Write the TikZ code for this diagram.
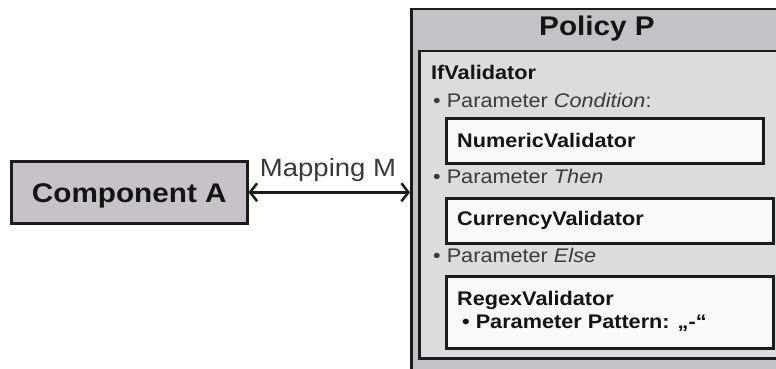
\documentclass[tikz,border=0pt]{standalone}
\usepackage{fontspec}
\setmainfont{Liberation Sans}[FakeStretch=1.1]
\usetikzlibrary{arrows.meta}

\definecolor{framecol}{HTML}{1C1C1C}
\definecolor{headfill}{HTML}{C4C2C6}
\definecolor{innerfill}{HTML}{DDDBDD}
\definecolor{compfill}{HTML}{C6C2C8}
\definecolor{whitefill}{HTML}{FAF8FA}
\definecolor{bodytext}{HTML}{3A3A3A}
\definecolor{titletext}{HTML}{141414}

\newcommand{\fsTitle}{\fontsize{27}{30}\selectfont\bfseries}
\newcommand{\fsBody}{\fontsize{19.7}{22}\selectfont}
\newcommand{\fsMap}{\fontsize{25}{28}\selectfont}

\begin{document}
\begin{tikzpicture}[x=1pt,y=-1pt,
  panel/.style={draw=framecol, line width=2.5pt, inner sep=0pt, anchor=north west},
  body/.style={anchor=base west, inner sep=0pt, font=\fsBody, text=bodytext},
  head/.style={anchor=base west, inner sep=0pt, font=\fsBody\bfseries, text=titletext},
  barb/.tip={Straight Barb[length=7pt,width=18pt,line width=2.5pt]}]
\clip (0,0) rectangle (776,369);
\fill[white] (0,0) rectangle (776,369);

% component on the left
\node[panel, fill=compfill, minimum width=236pt, minimum height=62pt,
      font=\fsTitle, text=titletext, text height=20pt, text depth=0pt]
  (compA) at (10,160) {Component A};

% policy container with its header band and content area
\node[panel, fill=headfill, minimum width=420pt, minimum height=420pt] (policy) at (410,8) {};
\node[anchor=base, inner sep=0pt, font=\fsTitle, text=titletext] (ptitle) at (597,36) {Policy P};
\node[panel, fill=innerfill, minimum width=400pt, minimum height=307pt] (content) at (418,50) {};

% nested validators
\node[head] (ifv) at (431,79) {IfValidator};
\node[body] (pcond) at (433,107) {• Parameter \textit{Condition}:};
\node[panel, fill=whitefill, minimum width=317pt, minimum height=45pt] (numbox) at (445,117) {};
\node[head] (numv) at (457,147) {NumericValidator};
\node[body] (pthen) at (433,183) {• Parameter \textit{Then}};
\node[panel, fill=whitefill, minimum width=327pt, minimum height=45pt] (curbox) at (445,197) {};
\node[head] (curv) at (457,225) {CurrencyValidator};
\node[body] (pelse) at (433,262) {• Parameter \textit{Else}};
\node[panel, fill=whitefill, minimum width=327pt, minimum height=72pt] (regbox) at (445,275) {};
\node[head] (regv) at (457,305) {RegexValidator};
\node[head] (ppat) at (462,328) {• Parameter Pattern: „-“};

% mapping between component and policy
\draw[line width=3pt, framecol, barb-barb] (compA.east) -- (compA.east -| policy.west);
\node[anchor=base, inner sep=0pt, font=\fsMap, text=bodytext] (mapM) at (328,176) {Mapping M};
\end{tikzpicture}
\end{document}
